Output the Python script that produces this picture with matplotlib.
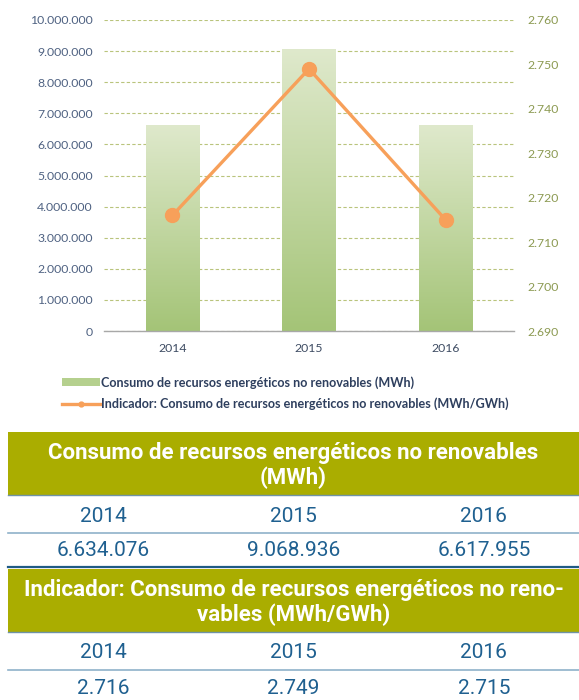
import matplotlib
matplotlib.use('Agg')
import matplotlib.pyplot as plt
import numpy as np
from matplotlib.colors import LinearSegmentedColormap
from matplotlib.ticker import FuncFormatter, MultipleLocator
from matplotlib.patches import Rectangle
from matplotlib.lines import Line2D

years = ['2014', '2015', '2016']
consumo = [6634076, 9068936, 6617955]
indicador = [2716, 2749, 2715]
consumo_labels = ['6.634.076', '9.068.936', '6.617.955']
indicador_labels = ['2.716', '2.749', '2.715']
legend_labels = ['Consumo de recursos energéticos no renovables (MWh)',
                 'Indicador: Consumo de recursos energéticos no renovables (MWh/GWh)']
table_titles = ['Consumo de recursos energéticos no renovables\n(MWh)',
                'Indicador: Consumo de recursos energéticos no reno-\nvables (MWh/GWh)']

W, H = 579, 700
chart_font = ['Lato', 'DejaVu Sans']
table_font = ['Roboto', 'DejaVu Sans']


def dotfmt(v, pos=None):
    return f'{int(round(v)):,}'.replace(',', '.')


fig = plt.figure(figsize=(W / 100, H / 100), dpi=100)

# ---------------- chart ----------------
ax = fig.add_axes([104 / W, 1 - 331 / H, 410 / W, 311 / H])
x = np.arange(len(years))
bars = ax.bar(x, consumo, width=0.39, color='none', edgecolor='none', zorder=2)
cmap = LinearSegmentedColormap.from_list('g', ['#a4c477', '#dfe9cc'])
grad = np.linspace(0, 1, 256).reshape(-1, 1)
for b in bars:
    x0, y0, w, h = b.get_x(), b.get_y(), b.get_width(), b.get_height()
    im = ax.imshow(grad, extent=[x0, x0 + w, y0, y0 + h], origin='lower',
                   cmap=cmap, aspect='auto', zorder=2)
    im.set_clip_path(b)
ax.set_xlim(-0.5, len(years) - 0.5)
ax.set_ylim(0, 10_000_000)
ax.yaxis.set_major_locator(MultipleLocator(1_000_000))
ax.yaxis.set_major_formatter(FuncFormatter(dotfmt))
ax.set_xticks(x)
ax.set_xticklabels(years)
ax.grid(axis='y', color='#b9c47c', linestyle=(0, (3, 2)), linewidth=0.8, zorder=0)
ax.set_axisbelow(True)
for s in ['top', 'left', 'right']:
    ax.spines[s].set_visible(False)
ax.spines['bottom'].set_color('#a8a8a8')
ax.spines['bottom'].set_linewidth(1.0)
ax.tick_params(axis='y', length=0, pad=8, labelsize=8.8, labelcolor='#4f6282')
ax.tick_params(axis='x', length=0, pad=9, labelsize=8.8, labelcolor='#3e4c63')
for t in ax.get_yticklabels() + ax.get_xticklabels():
    t.set_family(chart_font)

ax2 = ax.twinx()
ax2.plot(x, indicador, color='#f7a05a', linewidth=2.4, marker='o',
         markersize=10, zorder=3)
ax2.set_ylim(2690, 2760)
ax2.yaxis.set_major_locator(MultipleLocator(10))
ax2.yaxis.set_major_formatter(FuncFormatter(dotfmt))
for s in ax2.spines.values():
    s.set_visible(False)
ax2.tick_params(axis='y', length=0, pad=10, labelsize=8.8, labelcolor='#8c9a52')
for t in ax2.get_yticklabels():
    t.set_family(chart_font)

# legend
handles = [Rectangle((0, 0), 1, 1, facecolor='#b5d08e', edgecolor='none'),
           Line2D([], [], color='#f7a05a', linewidth=2.4, marker='o', markersize=3.5)]
leg = fig.legend(handles, legend_labels, loc='upper left',
                 bbox_to_anchor=(62 / W, 1 - 376 / H), frameon=False,
                 borderpad=0, borderaxespad=0, handlelength=3.0,
                 handleheight=0.55, handletextpad=0.1, labelspacing=0.72,
                 prop={'family': chart_font, 'size': 9.1, 'weight': 'bold'})
for t in leg.get_texts():
    t.set_color('#2e3f5e')

# ---------------- tables ----------------
tx = fig.add_axes([0, 0, 1, 1], zorder=-1)
tx.set_xlim(0, W)
tx.set_ylim(H, 0)
tx.axis('off')

left, right = 8, W
colw = (right - left) / 3
header_col = '#aaad00'
txt_col = '#1f6090'

def draw_table(top, title, vals):
    hh = 63
    tx.add_patch(Rectangle((left, top), right - left, hh, facecolor=header_col,
                           edgecolor='none'))
    tx.plot([left, right], [top + hh, top + hh], color='#6f93a6', lw=1.0)
    tx.text((left + right) / 2, top + hh / 2 + 2, title, ha='center', va='center',
            color='white', fontsize=16, fontweight='bold', family=table_font,
            linespacing=1.1)
    y_year = top + hh + 21
    y_line1 = top + hh + 38
    y_val = top + hh + 56
    y_line2 = top + hh + 72
    for i in range(3):
        cx = left + (i + 0.5) * colw
        tx.text(cx, y_year, years[i], ha='center', va='center', color=txt_col,
                fontsize=15, family=table_font)
        tx.text(cx, y_val, vals[i], ha='center', va='center', color=txt_col,
                fontsize=15, family=table_font)
    tx.plot([left, right], [y_line1, y_line1], color='#8fb2ca', lw=1.2)
    tx.plot([left, right], [y_line2, y_line2], color='#1f5a85', lw=1.6)

draw_table(432, table_titles[0], consumo_labels)
draw_table(569, table_titles[1], indicador_labels)

fig.savefig('out.png', dpi=100)
